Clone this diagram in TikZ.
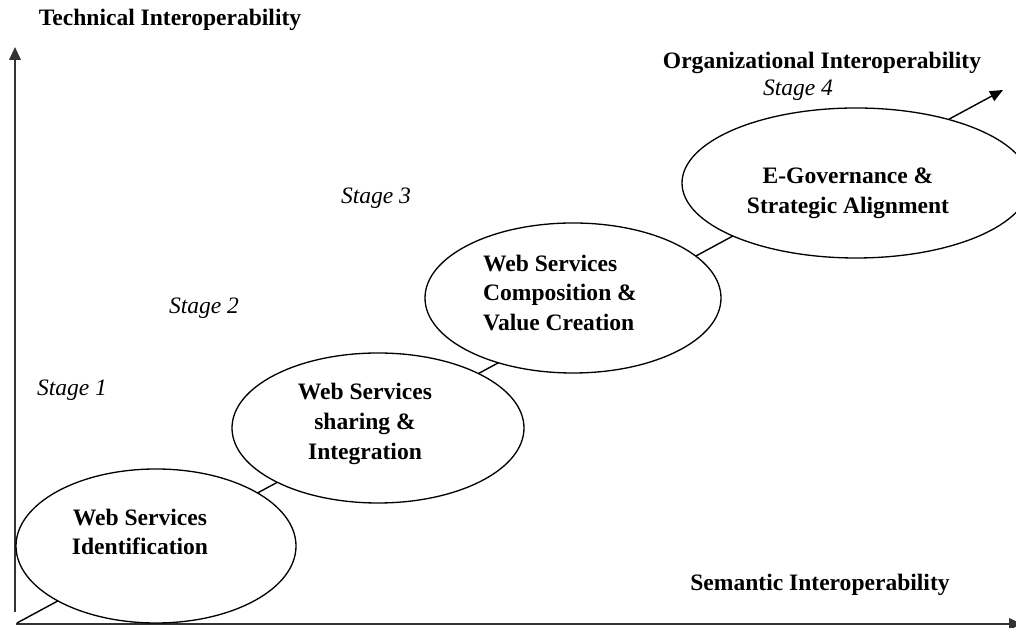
\documentclass[tikz,border=0pt]{standalone}
\usepackage{fontspec}
\setmainfont{Liberation Serif}
\usetikzlibrary{shapes.geometric, positioning, arrows.meta}

\begin{document}
\begin{tikzpicture}[thick, phase/.style = {draw, ellipse, fill=white,
                        inner sep=0pt, line width=0.75pt},
        axis/.style = {draw=black!80, line width=1.2pt,
                        -{Triangle[length=2.6mm, width=2.3mm]}},
        heading/.style = {font=\fontsize{13.4}{17}\selectfont\bfseries},
        stagetag/.style = {font=\fontsize{13.4}{17}\selectfont\itshape},
        phasetext/.style = {font=\fontsize{13.4}{17}\selectfont\bfseries,
                        align=center}]
        \useasboundingbox (0,0) rectangle (20.32,12.56);
        \clip (0,0) rectangle (20.32,12.56);

        \coordinate (ybase) at (0.30,0.32);
        \coordinate (ytop) at (0.30,11.62);
        \coordinate (xbase) at (0.32,0.08);
        \coordinate (xtip) at (20.44,0.08);
        \coordinate (origin) at (0.34,0.10);
        \coordinate (tip) at (20.06,10.76);

        \draw[axis] (ybase) -- (ytop);
        \draw[axis] (xbase) -- (xtip);
        \draw[line width=0.8pt, -{Triangle[length=2.6mm, width=2.2mm]}] (origin) -- (tip);

        \node[phase, minimum width=5.60cm, minimum height=3.08cm] (ident) at (3.12,1.64) {};
        \node[phase, minimum width=5.84cm, minimum height=3.00cm] (share) at (7.56,4.00) {};
        \node[phase, minimum width=5.92cm, minimum height=3.00cm] (compose) at (11.46,6.60) {};
        \node[phase, minimum width=6.96cm, minimum height=3.00cm] (govern) at (17.12,8.90) {};

        \node[phasetext] (identtext) at (2.80,1.92) {Web Services\\Identification};
        \node[phasetext] (sharetext) at (7.30,4.08) {Web Services\\sharing \&\\Integration};
        \node[phasetext, align=left] (composetext) at (11.20,6.70) {Web Services\\Composition \&\\Value Creation};
        \node[phasetext] (governtext) at (16.96,8.70) {E-Governance \&\\Strategic Alignment};

        \node[heading] (technical) at (3.40,12.16) {Technical Interoperability};
        \node[heading] (organizational) at (16.44,11.30) {Organizational Interoperability};
        \node[heading] (semantic) at (16.40,0.86) {Semantic Interoperability};

        \node[stagetag] (stage1) at (1.44,4.76) {Stage 1};
        \node[stagetag] (stage2) at (4.08,6.40) {Stage 2};
        \node[stagetag] (stage3) at (7.52,8.60) {Stage 3};
        \node[stagetag] (stage4) at (15.96,10.76) {Stage 4};
    \end{tikzpicture}
\end{document}
